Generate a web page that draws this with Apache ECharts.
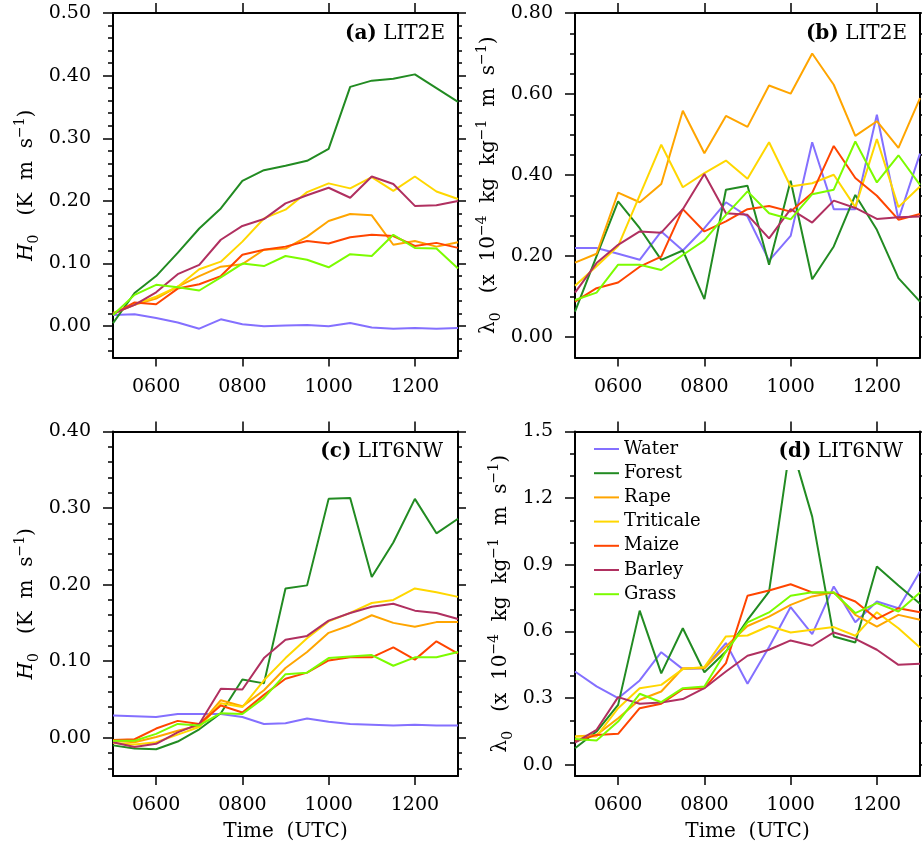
<!DOCTYPE html>
<html><head><meta charset="utf-8">
<script src="https://cdn.jsdelivr.net/npm/echarts@6/dist/echarts.min.js"></script>
<style>html,body{margin:0;padding:0;background:#fff}#c{width:922px;height:849px}</style>
</head><body><div id="c"></div><script>
const times = ['0500','0530','0600','0630','0700','0730','0800','0830','0900','0930','1000','1030','1100','1130','1200','1230','1300'];
const labelTimes = ['0600','0800','1000','1200'];
const names = ['Water','Forest','Rape','Triticale','Maize','Barley','Grass'];
const colors = ['#8470ff','#228b22','#ffa500','#ffd700','#ff4500','#b03060','#7cfc00'];

// (a) LIT2E  H0
const aWater = [0.018,0.019,0.013,0.006,-0.004,0.011,0.003,0.000,0.001,0.002,0.000,0.005,-0.002,-0.004,-0.003,-0.004,-0.003];
const aForest = [0.005,0.053,0.080,0.117,0.156,0.188,0.232,0.249,0.256,0.264,0.283,0.382,0.392,0.395,0.402,0.380,0.358];
const aRape = [0.020,0.034,0.044,0.063,0.080,0.095,0.099,0.122,0.124,0.143,0.168,0.179,0.177,0.130,0.136,0.127,0.134];
const aTriticale = [0.021,0.035,0.047,0.063,0.091,0.103,0.135,0.172,0.186,0.214,0.228,0.220,0.238,0.216,0.239,0.215,0.203];
const aMaize = [0.019,0.038,0.035,0.060,0.067,0.080,0.114,0.122,0.127,0.136,0.132,0.142,0.146,0.144,0.128,0.133,0.125];
const aBarley = [0.020,0.034,0.054,0.083,0.098,0.138,0.160,0.171,0.196,0.209,0.221,0.205,0.239,0.227,0.192,0.193,0.200];
const aGrass = [0.018,0.050,0.066,0.062,0.057,0.078,0.100,0.096,0.112,0.106,0.094,0.115,0.112,0.146,0.125,0.124,0.092];

// (b) LIT2E  lambda0
const bWater = [0.220,0.220,0.206,0.191,0.261,0.214,0.269,0.333,0.298,0.189,0.250,0.481,0.316,0.316,0.549,0.291,0.453];
const bForest = [0.063,0.200,0.335,0.269,0.191,0.214,0.094,0.364,0.374,0.179,0.386,0.143,0.224,0.351,0.265,0.146,0.088];
const bRape = [0.184,0.206,0.357,0.333,0.378,0.559,0.454,0.546,0.519,0.621,0.601,0.700,0.623,0.497,0.533,0.467,0.590];
const bTriticale = [0.127,0.175,0.225,0.350,0.475,0.370,0.405,0.436,0.391,0.481,0.372,0.380,0.401,0.321,0.489,0.321,0.372];
const bMaize = [0.088,0.121,0.135,0.174,0.199,0.316,0.261,0.286,0.316,0.324,0.310,0.356,0.472,0.393,0.349,0.290,0.304];
const bBarley = [0.110,0.183,0.228,0.261,0.258,0.316,0.403,0.306,0.302,0.244,0.316,0.283,0.337,0.319,0.292,0.296,0.298];
const bGrass = [0.092,0.110,0.179,0.179,0.166,0.203,0.239,0.302,0.360,0.306,0.291,0.353,0.364,0.483,0.382,0.449,0.376];

// (c) LIT6NW  H0
const cWater = [0.029,0.028,0.027,0.031,0.031,0.031,0.027,0.018,0.019,0.025,0.021,0.018,0.017,0.016,0.017,0.016,0.016];
const cForest = [-0.010,-0.014,-0.015,-0.005,0.011,0.032,0.076,0.071,0.195,0.199,0.312,0.313,0.210,0.255,0.312,0.267,0.286];
const cRape = [-0.004,-0.006,0.001,0.009,0.016,0.049,0.041,0.062,0.091,0.112,0.137,0.147,0.160,0.150,0.145,0.151,0.151];
const cTriticale = [-0.007,-0.009,-0.006,0.004,0.014,0.045,0.040,0.075,0.104,0.130,0.152,0.163,0.176,0.180,0.195,0.190,0.184];
const cMaize = [-0.003,-0.002,0.012,0.022,0.018,0.042,0.033,0.056,0.077,0.085,0.101,0.105,0.105,0.118,0.102,0.126,0.110];
const cBarley = [-0.006,-0.012,-0.008,0.007,0.018,0.064,0.063,0.104,0.128,0.133,0.153,0.163,0.171,0.175,0.166,0.163,0.155];
const cGrass = [-0.004,-0.004,0.005,0.018,0.016,0.032,0.031,0.052,0.083,0.085,0.104,0.106,0.108,0.094,0.105,0.105,0.112];

// (d) LIT6NW  lambda0
const dWater = [0.420,0.353,0.300,0.380,0.507,0.431,0.435,0.548,0.365,0.530,0.710,0.588,0.803,0.642,0.735,0.705,0.870];
const dForest = [0.075,0.150,0.270,0.694,0.412,0.615,0.417,0.510,0.652,0.780,1.450,1.117,0.578,0.551,0.893,0.807,0.725];
const dRape = [0.128,0.135,0.210,0.293,0.330,0.435,0.435,0.533,0.625,0.667,0.720,0.758,0.777,0.675,0.622,0.675,0.653];
const dTriticale = [0.128,0.128,0.255,0.345,0.360,0.431,0.440,0.578,0.582,0.625,0.596,0.608,0.620,0.581,0.687,0.615,0.528];
const dMaize = [0.105,0.135,0.140,0.255,0.275,0.341,0.345,0.458,0.761,0.785,0.813,0.776,0.773,0.735,0.657,0.705,0.687];
const dBarley = [0.100,0.158,0.305,0.275,0.281,0.296,0.345,0.420,0.491,0.518,0.560,0.536,0.596,0.567,0.518,0.450,0.455];
const dGrass = [0.117,0.110,0.195,0.320,0.282,0.345,0.353,0.510,0.641,0.686,0.761,0.777,0.776,0.683,0.728,0.690,0.776];

// y tick labels
const aTicks = [0, 0.1, 0.2, 0.3, 0.4, 0.5];
const bTicks = [0, 0.2, 0.4, 0.6, 0.8];
const cTicks = [0, 0.1, 0.2, 0.3, 0.4];
const dTicks = [0, 0.3, 0.6, 0.9, 1.2, 1.5];

const FONT = 'DejaVu Serif';
const H0name = '{i|H}{sub|0}{n|   (K  m  s}{sup|\u22121}{n|)}';
const L0name = '{n|\u03BB}{sub|0}{n|   (x  10}{sup|\u22124}{n|  kg  kg}{sup|\u22121}{n|  m  s}{sup|\u22121}{n|)}';
const nameRich = {
  n:{fontFamily:FONT, fontSize:20, lineHeight:28, color:'#000', verticalAlign:'middle'},
  i:{fontFamily:FONT, fontSize:20, lineHeight:28, fontStyle:'italic', color:'#000', verticalAlign:'middle'},
  sup:{fontFamily:FONT, fontSize:14, lineHeight:15, color:'#000', verticalAlign:'top'},
  sub:{fontFamily:FONT, fontSize:14, lineHeight:15, color:'#000', verticalAlign:'bottom'}
};

const panels = [
  {grid:{left:113, top:13, width:345, height:344.5}, max:0.5, split:5, minor:5, ticks:aTicks, dec:2,
   data:[aWater,aForest,aRape,aTriticale,aMaize,aBarley,aGrass], title:'{b|(a)} LIT2E', titleRight:477, titleTop:24,
   yName:H0name, gap:72, xName:''},
  {grid:{left:575, top:13, width:345, height:344.5}, max:0.8, split:4, minor:4, ticks:bTicks, dec:2,
   data:[bWater,bForest,bRape,bTriticale,bMaize,bBarley,bGrass], title:'{b|(b)} LIT2E', titleRight:15, titleTop:24,
   yName:L0name, gap:72, xName:''},
  {grid:{left:113, top:431.5, width:345, height:344.5}, max:0.4, split:4, minor:5, ticks:cTicks, dec:2,
   data:[cWater,cForest,cRape,cTriticale,cMaize,cBarley,cGrass], title:'{b|(c)} LIT6NW', titleRight:479, titleTop:442,
   yName:H0name, gap:72, xName:'Time  (UTC)'},
  {grid:{left:575, top:431.5, width:345, height:344.5}, max:1.5, split:5, minor:3, ticks:dTicks, dec:1,
   data:[dWater,dForest,dRape,dTriticale,dMaize,dBarley,dGrass], title:'{b|(d)} LIT6NW', titleRight:17, titleTop:442,
   yName:L0name, gap:60, xName:'Time  (UTC)'}
];

const lineBlack = {color:'#000', width:2};
const showLab = (i, v) => labelTimes.indexOf(v) >= 0;
const grid = [], xAxis = [], yAxis = [], series = [], title = [];

panels.forEach((p, gi) => {
  grid.push(p.grid);
  xAxis.push({type:'category', gridIndex:gi, position:'bottom', data:times, boundaryGap:false,
    axisLine:{show:true, onZero:false, lineStyle:lineBlack},
    axisTick:{show:true, interval:showLab, length:9, lineStyle:{color:'#000', width:1.5}},
    axisLabel:{interval:showLab, margin:20, fontFamily:FONT, fontSize:19, color:'#000'},
    splitLine:{show:false},
    name:p.xName, nameLocation:'middle', nameGap:46,
    nameTextStyle:{fontFamily:FONT, fontSize:20, color:'#000'}});
  xAxis.push({type:'category', gridIndex:gi, position:'top', data:times, boundaryGap:false,
    axisLine:{show:true, onZero:false, lineStyle:lineBlack},
    axisTick:{show:true, interval:showLab, length:10, lineStyle:{color:'#000', width:1.5}},
    axisLabel:{show:false}, splitLine:{show:false}});
  const base = {type:'value', gridIndex:gi, min:-0.05, max:p.max, splitNumber:p.split,
    splitLine:{show:false},
    minorTick:{show:true, splitNumber:p.minor, length:5, lineStyle:{color:'#000', width:1.5}}};
  yAxis.push(Object.assign({}, base, {position:'left',
    axisLine:{show:true, onZero:false, lineStyle:lineBlack},
    axisTick:{show:true, customValues:p.ticks, length:10, lineStyle:{color:'#000', width:1.5}},
    axisLabel:{customValues:p.ticks, margin:22, fontFamily:FONT, fontSize:19, color:'#000',
      formatter:(v) => v.toFixed(p.dec)},
    name:p.yName, nameLocation:'middle', nameGap:p.gap, nameRotate:90,
    nameTextStyle:{fontFamily:FONT, fontSize:20, color:'#000', rich:nameRich}}));
  yAxis.push(Object.assign({}, base, {position:'right',
    axisLine:{show:true, onZero:false, lineStyle:lineBlack},
    axisTick:{show:true, customValues:p.ticks, length:8, lineStyle:{color:'#000', width:1.5}},
    minorTick:{show:true, splitNumber:p.minor, length:4, lineStyle:{color:'#000', width:1.5}},
    axisLabel:{show:false}}));
  names.forEach((n, si) => {
    series.push({type:'line', name:n, xAxisIndex:gi*2, yAxisIndex:gi*2, data:p.data[si],
      symbol:'none', color:colors[si], lineStyle:{width:2, color:colors[si]}, z:2});
  });
  title.push({text:p.title, right:p.titleRight, top:p.titleTop,
    padding: gi === 3 ? [0,2,8,0] : 0, backgroundColor: gi === 3 ? '#fff' : 'transparent',
    textStyle:{fontFamily:FONT, fontSize:20, fontWeight:'normal', color:'#000',
      rich:{b:{fontFamily:FONT, fontSize:20, fontWeight:'bold', color:'#000'}}}});
});

const chart = echarts.init(document.getElementById('c'), null, {renderer:'canvas'});
chart.setOption({
  animation:false,
  backgroundColor:'#fff',
  title:title,
  grid:grid, xAxis:xAxis, yAxis:yAxis, series:series,
  legend:{data:names, orient:'vertical', left:589, top:435, itemWidth:25, itemHeight:14, itemGap:6.2,
    icon:'path://M0,6L25,6L25,8L0,8Z',
    textStyle:{fontFamily:FONT, fontSize:18, color:'#000'}}
});
</script></body></html>
